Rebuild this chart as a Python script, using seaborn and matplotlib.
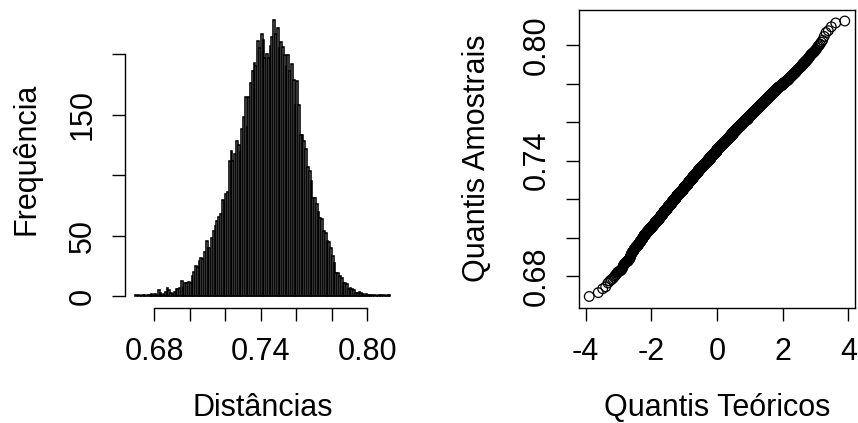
import numpy as np
import pandas as pd
import matplotlib
matplotlib.use("Agg")
import matplotlib.pyplot as plt
import seaborn as sns
from statistics import NormalDist

# ---------------- data ----------------
bin_start = 0.669
bin_width = 0.001
frequencias = [
    1, 0, 1, 0, 1, 1, 0, 1, 1, 2,          # 0.669 - 0.678
    1, 2, 1, 5, 3, 1, 2, 4, 7, 5,          # 0.679 - 0.688
    3, 2, 4, 6, 6, 7, 13, 8, 11, 11,       # 0.689 - 0.698
    12, 11, 17, 20, 25, 24, 29, 32, 31, 37,  # 0.699 - 0.708
    46, 40, 40, 48, 54, 58, 62, 66, 68, 80,  # 0.709 - 0.718
    78, 85, 86, 112, 120, 112, 118, 128, 125, 119,  # 0.719 - 0.728
    138, 148, 165, 140, 165, 176, 186, 193, 190, 211,  # 0.729 - 0.738
    205, 217, 212, 197, 200, 197, 207, 214, 228, 217,  # 0.739 - 0.748
    222, 205, 210, 206, 199, 190, 199, 186, 192, 179,  # 0.749 - 0.758
    158, 178, 158, 133, 133, 128, 122, 107, 104, 95,   # 0.759 - 0.768
    81, 81, 76, 70, 65, 64, 54, 52, 46, 45,            # 0.769 - 0.778
    40, 33, 28, 19, 19, 17, 15, 11, 11, 10,            # 0.779 - 0.788
    6, 7, 6, 5, 3, 3, 4, 3, 2, 1,                      # 0.789 - 0.798
    2, 1, 1, 1, 0, 1, 0, 1, 1, 0,                      # 0.799 - 0.808
    1, 0, 1, 1,                                        # 0.809 - 0.812
]

hist_xticks = [0.68, 0.70, 0.72, 0.74, 0.76, 0.78, 0.80]
hist_xticklabels = ["0.68", "", "", "0.74", "", "", "0.80"]
hist_yticks = [0, 50, 100, 150, 200]
hist_yticklabels = ["0", "50", "", "150", ""]

qq_xticks = [-4, -2, 0, 2, 4]
qq_xticklabels = ["-4", "-2", "0", "2", "4"]
qq_yticks = [0.68, 0.70, 0.72, 0.74, 0.76, 0.78, 0.80]
qq_yticklabels = ["0.68", "", "", "0.74", "", "", "0.80"]

# ---------------- derived tables ----------------
edges = bin_start + bin_width * np.arange(len(frequencias) + 1)
centros = (edges[:-1] + edges[1:]) / 2
df_hist = pd.DataFrame({"centro": centros, "freq": frequencias})

# sample values spread within each histogram bin -> normal QQ plot
amostra = []
for lo, c in zip(edges[:-1], frequencias):
    for k in range(c):
        amostra.append(lo + (k + 0.5) / c * bin_width)
amostra = np.sort(np.array(amostra))
n = len(amostra)
nd = NormalDist()
teoricos = np.array([nd.inv_cdf((i - 0.5) / n) for i in range(1, n + 1)])
df_qq = pd.DataFrame({"teorico": teoricos, "amostral": amostra})


def r_lim(lo, hi):
    d = (hi - lo) * 0.04
    return lo - d, hi + d

# ---------------- style ----------------
sns.set_theme(style="white")
plt.rcParams["font.family"] = ["Liberation Sans", "DejaVu Sans"]
plt.rcParams["text.color"] = "black"
plt.rcParams["axes.labelcolor"] = "black"
plt.rcParams["xtick.color"] = "black"
plt.rcParams["ytick.color"] = "black"
FS = 22

W, H = 858, 423
fig = plt.figure(figsize=(W / 100, H / 100), dpi=100)
fig.patch.set_facecolor("white")

def fig_rect(x0, y0, x1, y1):
    return [x0 / W, 1 - y1 / H, (x1 - x0) / W, (y1 - y0) / H]

ax1 = fig.add_axes(fig_rect(124.5, 9.3, 400.7, 307.5))
ax2 = fig.add_axes(fig_rect(579, 10, 855, 307.5))

# ---------------- histogram ----------------
sns.histplot(data=df_hist, x="centro", weights="freq", bins=edges.tolist(), ax=ax1,
             color="white", edgecolor="black", linewidth=1.15, alpha=1)
ax1.set_xlim(*r_lim(edges[0], edges[-1]))
ax1.set_ylim(*r_lim(0, max(frequencias)))
for s in ["top", "right"]:
    ax1.spines[s].set_visible(False)
ax1.spines["left"].set_bounds(hist_yticks[0], hist_yticks[-1])
ax1.spines["bottom"].set_bounds(hist_xticks[0], hist_xticks[-1])
ax1.set_xticks(hist_xticks)
ax1.set_xticklabels(hist_xticklabels)
ax1.set_yticks(hist_yticks)
ax1.set_yticklabels(hist_yticklabels, rotation=90, va="center")
ax1.set_xlabel("Distâncias", fontsize=FS)
ax1.set_ylabel("Frequência", fontsize=FS)

# ---------------- QQ plot ----------------
sns.scatterplot(data=df_qq, x="teorico", y="amostral", ax=ax2, marker="o",
                s=48, linewidth=0.9, legend=False)
pts = ax2.collections[0]
pts.set_facecolor("none")
pts.set_edgecolor("black")
ax2.set_xlim(*r_lim(teoricos.min(), teoricos.max()))
ax2.set_ylim(*r_lim(amostra.min(), amostra.max()))
ax2.set_xticks(qq_xticks)
ax2.set_xticklabels(qq_xticklabels)
ax2.set_yticks(qq_yticks)
ax2.set_yticklabels(qq_yticklabels, rotation=90, va="center")
ax2.set_xlabel("Quantis Teóricos", fontsize=FS)
ax2.set_ylabel("Quantis Amostrais", fontsize=FS)

for ax in (ax1, ax2):
    for s in ax.spines.values():
        s.set_color("black")
        s.set_linewidth(1.0)
    ax.tick_params(axis="both", which="both", direction="out", length=9.5,
                   width=1.0, color="black", labelsize=FS,
                   bottom=True, left=True, labelcolor="black")
    ax.tick_params(axis="x", pad=12)
    ax.tick_params(axis="y", pad=10)
    ax.xaxis.label.set_va("center")
    ax.yaxis.label.set_va("center")
    ax.grid(False)

ax1.xaxis.set_label_coords(0.5, (307.5 - 408) / 298.2)
ax1.yaxis.set_label_coords((27 - 124.5) / 276.2, 0.5)
ax2.xaxis.set_label_coords(0.5, (307.5 - 408) / 297.5)
ax2.yaxis.set_label_coords((477 - 579) / 276, 0.5)

fig.savefig("out.png", dpi=100, facecolor="white")
